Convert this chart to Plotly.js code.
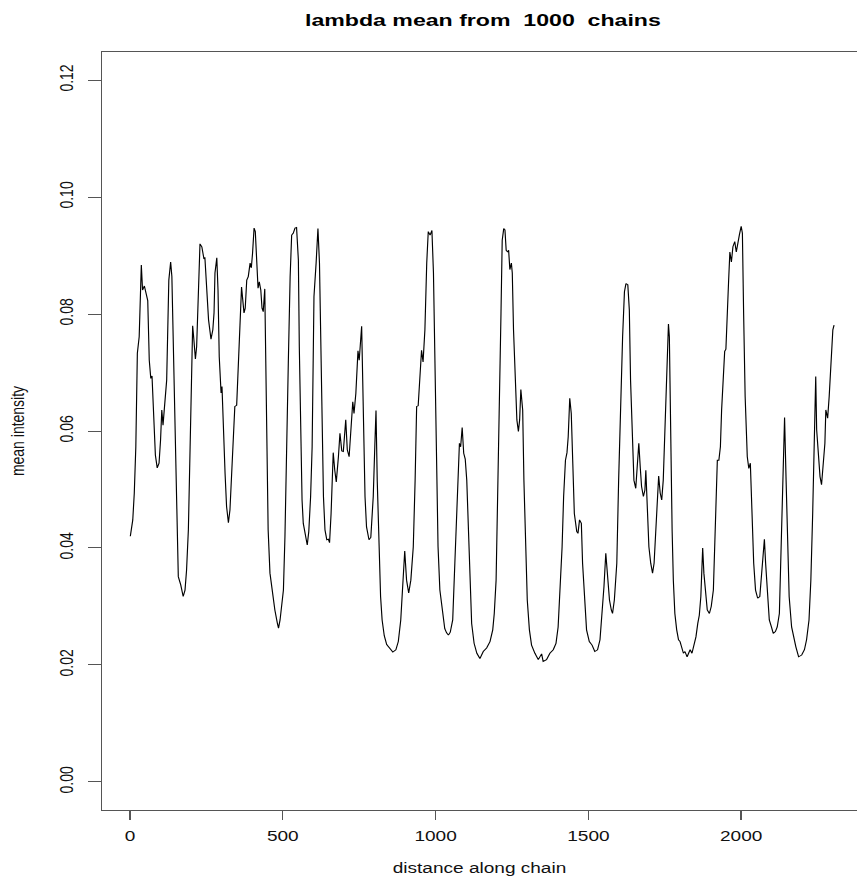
<!DOCTYPE html>
<html>
<head>
<meta charset="utf-8">
<script src="https://cdn.plot.ly/plotly-3.0.1.min.js"></script>
<style>
  html, body { margin: 0; padding: 0; background: #fff; overflow: hidden; }
  #wrap { width: 857px; height: 879px; overflow: hidden; }
  #chart { width: 630px; height: 879px; transform: scaleX(1.3603); transform-origin: 0 0; }
</style>
</head>
<body>
<div id="wrap"><div id="chart"></div></div>
<script>
// distance along chain (x) and mean intensity (y)
const distance = [
  1,9,14,19,24,30,37,41,47,55,58,63,68,72,76,83,89,95,100,104,108,113,120,127,133,137,142,147,153,158,166,174,180,185,191,196,202,205,209,214,218,224,229,235,238,242,245,249,253,257,265,271,275,278,284,288,292,298,301,305,311,316,322,327,333,338,343,349,354,360,365,373,377,382,387,393,397,401,406,410,415,419,423,428,432,436,441,447,452,458,467,474,482,486,491,
  502,507,513,518,524,529,534,540,545,551,554,559,563,567,573,580,585,591,596,602,609,615,620,624,628,633,638,644,649,653,658,665,670,675,682,687,693,698,706,711,717,722,729,733,739,746,750,758,763,769,774,782,788,796,801,805,809,814,820,825,832,840,850,860,870,878,886,892,899,905,912,919,927,933,938,943,949,954,959,965,971,976,982,988,993,997,1001,1008,1014,1021,1025,1030,1036,1042,1048,1052,1056,1063,1071,1078,1082,1087,1092,1097,1102,1107,1113,
  1118,1126,1135,1145,1156,1167,1178,1187,1192,1198,1203,1208,1214,1218,1223,1227,1231,1236,1239,1243,1248,1251,1255,1261,1266,1271,1275,1279,1285,1289,1294,1300,1307,1314,1325,1336,1347,1352,1363,1374,1385,1394,1401,1407,1414,1419,1425,1430,1434,1439,1444,1449,1454,1462,1466,1471,1477,1481,1488,1494,1503,1512,1521,1530,1538,1545,1551,1557,1562,1569,1575,1579,1585,1593,1599,1606,1612,1618,1623,1629,1634,1638,1644,1649,1655,1661,1665,1670,1674,1680,1685,1688,1693,1698,
  1704,1710,1715,1721,1725,1730,1735,1740,1745,1751,1756,1762,1765,1769,1774,1778,1783,1789,1795,1800,1806,1811,1816,1823,1828,1833,1839,1845,1852,1858,1863,1868,1874,1878,1883,1889,1896,1902,1909,1913,1918,1922,1927,1932,1936,1941,1946,1950,1955,1959,1963,1968,1973,1979,1984,1990,1994,2000,2004,2008,2013,2020,2025,2030,2034,2041,2047,2054,2061,2066,2070,2076,2080,2086,2092,2099,2105,2112,2118,2125,2130,2136,2142,2147,2151,2157,2165,2173,2179,2188,2198,2207,2214,2222,2228,2234,2238,2244,2247,2252,2258,2263,2268,2274,2277,2283,2288,2293,2296,2300,2304
];
const meanIntensity = [
  0.0420,0.0448,0.0494,0.0573,0.0733,0.0761,0.0884,0.0841,0.0848,0.0824,0.0823,0.0721,0.0690,0.0694,0.0631,0.0559,0.0537,0.0545,0.0585,0.0636,0.0610,0.0636,0.0687,0.0858,0.0889,0.0864,0.0744,0.0573,0.0460,0.0351,0.0337,0.0317,0.0328,0.0362,0.0431,0.0545,0.0687,0.0780,0.0756,0.0723,0.0744,0.0830,0.0920,0.0915,0.0901,0.0894,0.0897,0.0858,0.0847,0.0790,0.0757,0.0773,0.0802,0.0870,0.0896,0.0841,0.0727,0.0665,0.0676,0.0596,0.0528,0.0471,0.0443,0.0465,0.0522,0.0585,0.0642,0.0644,0.0716,0.0819,0.0846,0.0802,0.0810,0.0858,0.0864,0.0887,0.0879,0.0904,0.0947,0.0941,0.0892,0.0844,0.0855,0.0841,0.0810,0.0804,0.0843,0.0573,0.0431,0.0357,0.0317,0.0294,0.0272,0.0263,0.0277,
  0.0328,0.0419,0.0545,0.0716,0.0864,0.0935,0.0938,0.0947,0.0948,0.0892,0.0744,0.0573,0.0482,0.0442,0.0419,0.0405,0.0428,0.0488,0.0573,0.0830,0.0887,0.0946,0.0887,0.0744,0.0573,0.0488,0.0431,0.0414,0.0415,0.0409,0.0459,0.0563,0.0533,0.0513,0.0556,0.0596,0.0566,0.0565,0.0619,0.0568,0.0556,0.0596,0.0650,0.0630,0.0664,0.0737,0.0721,0.0779,0.0630,0.0488,0.0436,0.0414,0.0418,0.0488,0.0573,0.0635,0.0516,0.0402,0.0317,0.0277,0.0250,0.0235,0.0228,0.0222,0.0226,0.0240,0.0277,0.0323,0.0395,0.0345,0.0323,0.0345,0.0402,0.0516,0.0642,0.0643,0.0687,0.0738,0.0718,0.0773,0.0887,0.0941,0.0935,0.0943,0.0870,0.0744,0.0545,0.0402,0.0328,0.0294,0.0277,0.0262,0.0255,0.0251,0.0256,0.0265,0.0277,0.0374,0.0488,0.0579,0.0573,0.0606,0.0562,0.0552,0.0516,0.0431,0.0345,
  0.0271,0.0237,0.0220,0.0211,0.0223,0.0229,0.0240,0.0260,0.0288,0.0345,0.0459,0.0630,0.0801,0.0926,0.0946,0.0944,0.0909,0.0906,0.0909,0.0876,0.0887,0.0870,0.0773,0.0676,0.0619,0.0599,0.0619,0.0671,0.0636,0.0516,0.0402,0.0311,0.0260,0.0234,0.0220,0.0209,0.0219,0.0206,0.0209,0.0220,0.0226,0.0237,0.0265,0.0317,0.0402,0.0488,0.0550,0.0563,0.0590,0.0656,0.0630,0.0545,0.0459,0.0428,0.0425,0.0448,0.0442,0.0374,0.0300,0.0260,0.0240,0.0234,0.0223,0.0226,0.0243,0.0283,0.0334,0.0391,0.0345,0.0311,0.0294,0.0288,0.0311,0.0374,0.0516,0.0687,0.0761,0.0838,0.0852,0.0850,0.0807,0.0687,0.0573,0.0516,0.0502,0.0539,0.0579,0.0536,0.0505,0.0488,0.0499,0.0533,0.0459,0.0402,
  0.0374,0.0357,0.0374,0.0431,0.0488,0.0523,0.0494,0.0482,0.0516,0.0602,0.0716,0.0783,0.0761,0.0573,0.0431,0.0345,0.0288,0.0260,0.0243,0.0240,0.0226,0.0220,0.0223,0.0214,0.0220,0.0226,0.0220,0.0234,0.0248,0.0271,0.0285,0.0317,0.0400,0.0357,0.0317,0.0294,0.0288,0.0300,0.0328,0.0402,0.0516,0.0550,0.0550,0.0573,0.0636,0.0687,0.0736,0.0740,0.0790,0.0858,0.0906,0.0889,0.0915,0.0924,0.0906,0.0929,0.0935,0.0950,0.0938,0.0801,0.0659,0.0556,0.0536,0.0545,0.0459,0.0374,0.0328,0.0314,0.0317,0.0345,0.0385,0.0415,0.0374,0.0317,0.0277,0.0265,0.0254,0.0257,0.0265,0.0288,0.0374,0.0516,0.0623,0.0516,0.0402,0.0317,0.0265,0.0243,0.0231,0.0214,0.0217,0.0226,0.0243,0.0277,0.0345,0.0459,0.0573,0.0693,0.0602,0.0550,0.0522,0.0508,0.0533,0.0579,0.0636,0.0622,0.0659,0.0710,0.0764,0.0773,0.0781
];
const xTickVals = [0, 500, 1000, 1500, 2000];
const xTickText = ['0', '500', '1000', '1500', '2000'];
const yTickVals = [0, 0.02, 0.04, 0.06, 0.08, 0.10, 0.12];
const yTickText = ['0.00', '0.02', '0.04', '0.06', '0.08', '0.10', '0.12'];
const chartTitle = 'lambda mean from \u00a01000 \u00a0chains';
const xTitle = 'distance along chain';
const yTitle = 'mean intensity';

const trace = {
  x: distance,
  y: meanIntensity,
  type: 'scatter',
  mode: 'lines',
  line: { color: '#000', width: 0.85 },
  hoverinfo: 'skip'
};

const layout = {
  width: 630,
  height: 879,
  margin: { l: 75, r: 0, t: 52, b: 69 },
  paper_bgcolor: '#fff',
  plot_bgcolor: '#fff',
  showlegend: false,
  font: { family: 'Liberation Sans, Arial, Helvetica, sans-serif', size: 14, color: '#111' },
  title: {
    text: chartTitle,
    font: { size: 17, weight: 'bold', color: '#000' },
    xref: 'container', x: 0.5635, xanchor: 'center',
    yref: 'container', y: 1 - 20 / 879, yanchor: 'middle'
  },
  xaxis: {
    range: [-91.6, 2379],
    tickmode: 'array', tickvals: xTickVals, ticktext: xTickText,
    ticks: 'outside', ticklen: 9, tickwidth: 1, tickcolor: '#555',
    showline: true, linecolor: '#555', linewidth: 1, mirror: true,
    showgrid: false, zeroline: false,
    ticklabelstandoff: 4,
    title: { text: xTitle, standoff: 20, font: { size: 14 } }
  },
  yaxis: {
    range: [-0.0048, 0.1248],
    tickmode: 'array', tickvals: yTickVals, ticktext: yTickText,
    tickangle: -90,
    ticks: 'outside', ticklen: 9, tickwidth: 1, tickcolor: '#555',
    showline: true, linecolor: '#555', linewidth: 1, mirror: false,
    showgrid: false, zeroline: false,
    ticklabelstandoff: 6,
    title: { text: yTitle, standoff: 18, font: { size: 14 } }
  }
};

Plotly.newPlot('chart', [trace], layout, { displayModeBar: false, staticPlot: true });
</script>
</body>
</html>
